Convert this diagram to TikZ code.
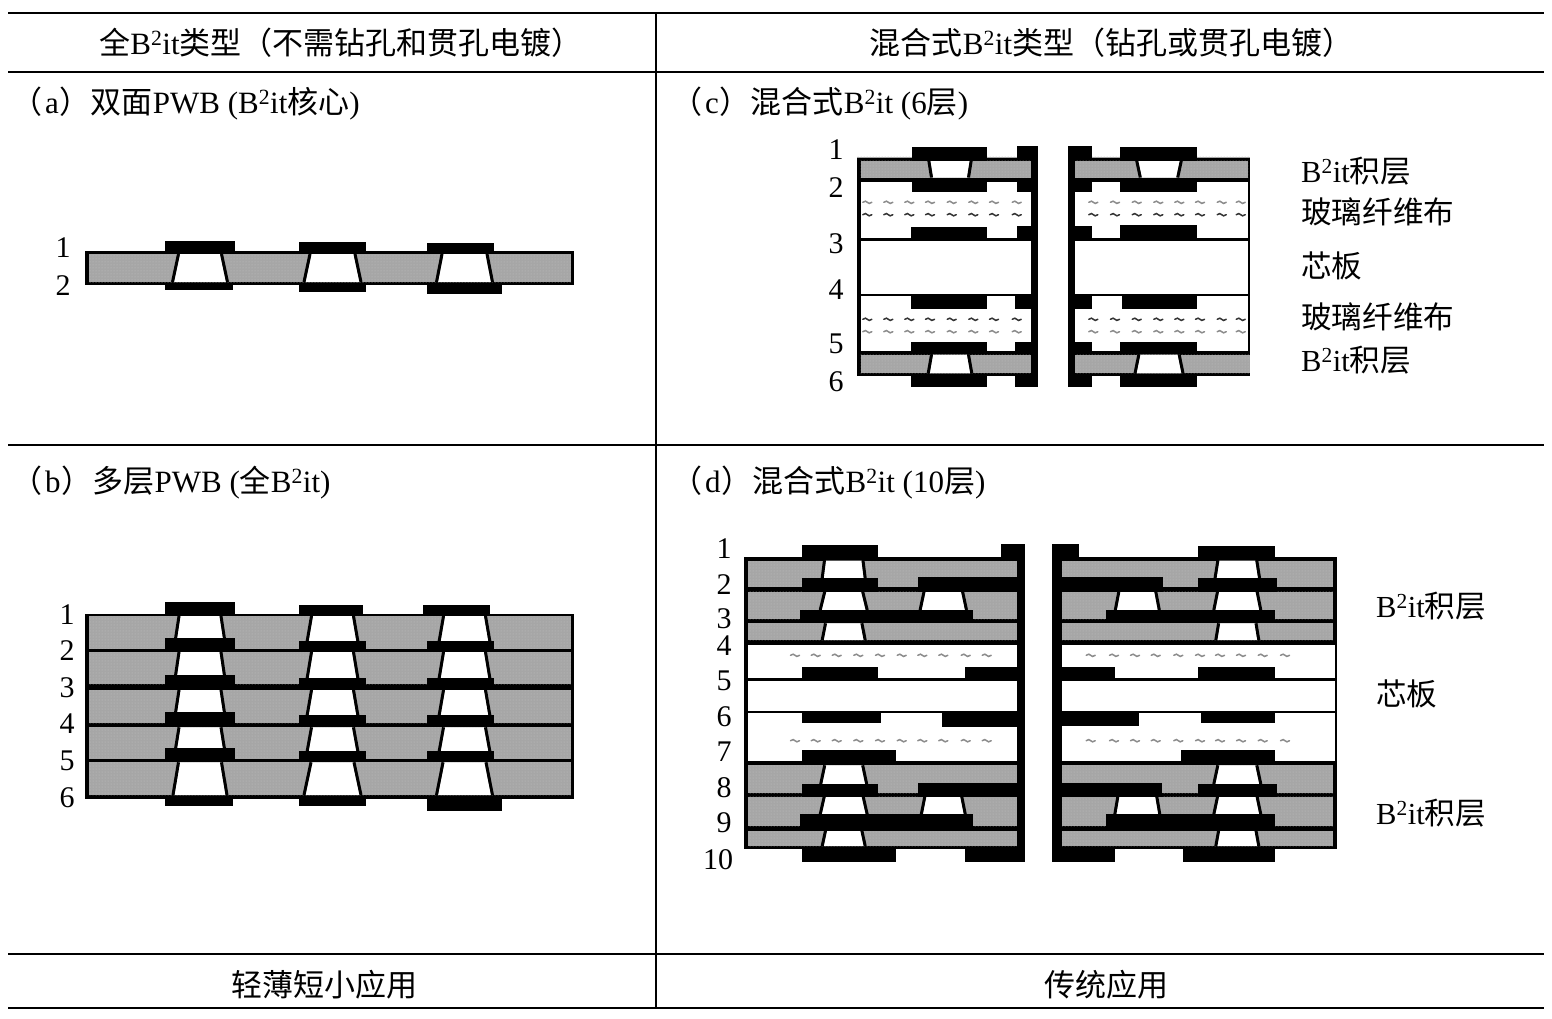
\documentclass[tikz,border=0pt]{standalone}
\usepackage{fontspec}
\usetikzlibrary{patterns}
\setmainfont{Liberation Serif}
\newfontfamily\cjk{Noto Sans CJK SC}
\newcommand\C[1]{{\cjk #1}}
\newcommand\Bit{B\textsuperscript{2}it}
\newcommand\AB[1]{\C{（}\kern3pt #1\kern1pt\C{）}}
\definecolor{stip}{HTML}{A6A6A6}
\definecolor{stipdot}{HTML}{C2C2C2}
\tikzset{
  rule/.style={line width=1.8pt,black},
  txt/.style={inner sep=0pt,font=\fontsize{31}{31}\selectfont},
  lbl/.style={txt,anchor=west},
  side/.style={inner sep=0pt,anchor=west,font=\fontsize{30.6}{31}\selectfont},
  num/.style={inner sep=0pt,anchor=center,font=\fontsize{30}{30}\selectfont},
  wall/.style={line width=3pt,black},
  glass/.style={line width=1.5pt,black!45,line cap=round},
  glassk/.style={line width=1.5pt,black!80,line cap=round},
}
% black block, gray layer, white layer: x1 x2 y1 y2
\newcommand\PD[4]{\fill[black] (#1,#3) rectangle (#2,#4);}
\newcommand\RG[4]{\fill[stip] (#1,#3) rectangle (#2,#4);\fill[pattern=dots,pattern color=stipdot] (#1,#3) rectangle (#2,#4);}
\newcommand\RW[4]{\fill[white] (#1,#3) rectangle (#2,#4);}
% via: centre, top half width, bottom half width, y top, y bottom
\newcommand\VI[5]{%
  \fill[white] ({#1-#2},#4) -- ({#1+#2},#4) -- ({#1+#3},#5) -- ({#1-#3},#5) -- cycle;
  \draw[wall] ({#1-#2-1.5},#4) -- ({#1-#3-1.5},#5);
  \draw[wall] ({#1+#2+1.5},#4) -- ({#1+#3+1.5},#5);}
% glass cloth marks: pale, dark
\newcommand\GL[2]{\draw[glass] ({#1-4.5},#2) .. controls ({#1-2.5},{#2-1.5}) and ({#1-1},{#2-1.5}) .. (#1,#2) .. controls ({#1+1},{#2+1.5}) and ({#1+2.5},{#2+1.5}) .. ({#1+4.5},#2);}
\newcommand\GK[2]{\draw[glassk] ({#1-4.5},#2) .. controls ({#1-2.5},{#2-1.5}) and ({#1-1},{#2-1.5}) .. (#1,#2) .. controls ({#1+1},{#2+1.5}) and ({#1+2.5},{#2+1.5}) .. ({#1+4.5},#2);}
\begin{document}
\begin{tikzpicture}[x=1pt,y=-1pt]
\useasboundingbox (0,0) rectangle (1552,1018);
\fill[white] (0,0) rectangle (1552,1018);
% table
\draw[rule] (8,13) -- (1544,13);
\draw[rule] (8,72) -- (1544,72);
\draw[rule] (8,445) -- (1544,445);
\draw[rule] (8,954) -- (1544,954);
\draw[rule] (8,1008) -- (1544,1008);
\draw[rule] (656,13) -- (656,1008);
% headers
\node[txt] (h1) at (341,42.5) {\C{全}\Bit\C{类型（不需钻孔和贯孔电镀）}};
\node[txt] (h2) at (1111.5,42.5) {\C{混合式}\Bit\C{类型（钻孔或贯孔电镀）}};
\node[txt] (f1) at (324,984.5) {\C{轻薄短小应用}};
\node[txt] (f2) at (1106,984.5) {\C{传统应用}};
\node[lbl] (ta) at (11,103.5) {\AB{a}\C{双面}PWB (\Bit\C{核心})};
\node[lbl] (tb) at (11,482.5) {\AB{b}\C{多层}PWB (\C{全}\Bit)};
\node[lbl] (tc) at (671,103.5) {\AB{c}\C{混合式}\Bit\ (6\C{层})};
\node[lbl] (td) at (671,482.5) {\AB{d}\C{混合式}\Bit\ (10\C{层})};

%%% panel (a)
\PD{85}{574}{251}{285}
\RG{88.5}{571}{254}{282}
\VI{200}{20}{26}{254}{282}
\VI{332.5}{21}{27}{254}{282}
\VI{464.5}{21}{26.5}{254}{282}
\PD{165}{235}{241}{253}
\PD{299}{366}{242}{253}
\PD{427}{494}{243}{253}
\PD{165}{233}{283}{290}
\PD{299}{366}{283}{292}
\PD{427}{502}{283}{294}
\node[num] (a1) at (63,248) {1};
\node[num] (a2) at (63,286) {2};

%%% panel (b)
\PD{85}{574}{613.5}{798.5}
\RG{88.5}{571}{616}{648.7}
\RG{88.5}{571}{652}{684.3}
\RG{88.5}{571}{690}{723.3}
\RG{88.5}{571}{727.3}{758.7}
\RG{88.5}{571}{762.3}{795}
\foreach \c/\hb/\hl in {200/23.5/25.5,332.5/24/27,464.5/24/26.5}{
  \VI{\c}{19.5}{\hb}{616}{642}
  \VI{\c}{19.5}{\hb}{652}{679}
  \VI{\c}{19.5}{\hb}{690}{716}
  \VI{\c}{19.5}{\hb}{727.3}{752}
  \VI{\c}{20}{\hl}{762.3}{795}
}
\PD{165}{235}{602}{614}
\PD{299}{363}{605}{614}
\PD{423}{490}{605}{614}
\foreach \a/\b/\yp in {165/235/637.5,165/235/675,165/235/712,165/235/747.5}{\PD{\a}{\b}{\yp}{\yp+12}}
\PD{299}{366}{641}{650}\PD{299}{366}{678}{686}\PD{299}{366}{715}{724}\PD{299}{366}{751}{759}
\PD{427}{494}{641}{650}\PD{427}{494}{678}{686}\PD{427}{494}{715}{724}\PD{427}{494}{751}{759}
\PD{165}{233}{797}{806}
\PD{299}{366}{797}{806}
\PD{427}{502}{797}{811}
\node[num] (b1) at (67,615) {1};
\node[num] (b2) at (67,651) {2};
\node[num] (b3) at (67,688) {3};
\node[num] (b4) at (67,724) {4};
\node[num] (b5) at (67,761) {5};
\node[num] (b6) at (67,798) {6};

%%% panel (c), left half
\PD{857}{1031}{158.3}{376}
\RG{857}{1031}{156.5}{158.3}
\RG{860.7}{1031}{160.7}{177.5}
\RW{860.7}{1031}{181.7}{237.5}
\RW{860.7}{1031}{240.7}{294}
\RW{860.7}{1031}{296}{350.7}
\RG{860.7}{1031}{354.7}{373.3}
\PD{1030.7}{1038.3}{146}{387.3}
\VI{950}{19.7}{17}{160.7}{177.5}
\VI{950}{17}{20.3}{354.7}{373.3}
\PD{911.7}{986.7}{147.3}{160.7}
\PD{1016.7}{1038.3}{146}{158}
\PD{911.7}{986.7}{177.5}{191.7}
\PD{1016.7}{1031}{181.7}{191.7}
\PD{910.7}{986.7}{226.7}{237.5}
\PD{1016.7}{1031}{226}{237.5}
\PD{910.7}{986.7}{296}{309}
\PD{1015}{1031}{296}{308.5}
\PD{910.7}{986.7}{342.3}{350.7}
\PD{1015}{1031}{342.3}{350.7}
\PD{910.7}{986.7}{376}{387.3}
\PD{1015}{1038.3}{376}{387.3}
\foreach \x in {867.3,888.3,909.3,930,951.7,973.3,994,1016.7}{
  \GL{\x}{202.3}\GK{\x}{214.7}\GK{\x}{319.3}\GL{\x}{331.7}}
%%% panel (c), right half
\PD{1075}{1250}{158.3}{376}
\RG{1075}{1250}{156.5}{158.3}
\RG{1075}{1248}{160.7}{177.5}
\RW{1075}{1248}{181.7}{237.5}
\RW{1075}{1248}{240.7}{294}
\RW{1075}{1248}{296}{350.7}
\RG{1075}{1250}{354.7}{373.3}
\PD{1068.3}{1075}{146}{387.3}
\VI{1159}{20.8}{17.2}{160.7}{177.5}
\VI{1159}{18.7}{22.5}{354.7}{373.3}
\PD{1120}{1196.7}{147.3}{160.7}
\PD{1068.3}{1091.7}{146}{158}
\PD{1120}{1196.7}{177.5}{191.7}
\PD{1075}{1091.7}{181.7}{191.7}
\PD{1120}{1196.7}{225}{237.5}
\PD{1075}{1091.7}{226}{237.5}
\PD{1121.7}{1196.7}{296}{309}
\PD{1075}{1091.7}{296}{308.5}
\PD{1120}{1196.7}{342.3}{350.7}
\PD{1075}{1091.7}{342.3}{350.7}
\PD{1120}{1196.7}{376}{387.3}
\PD{1068.3}{1091.7}{376}{387.3}
\foreach \x in {1093.3,1115,1136.7,1158.3,1179.3,1200,1221.7,1240.7}{
  \GL{\x}{202.3}\GK{\x}{214.7}\GK{\x}{319.3}\GL{\x}{331.7}}
\node[num] (c1) at (836,150) {1};
\node[num] (c2) at (836,188) {2};
\node[num] (c3) at (836,244) {3};
\node[num] (c4) at (836,290) {4};
\node[num] (c5) at (836,344) {5};
\node[num] (c6) at (836,382) {6};
\node[side] (cl1) at (1301,171.5) {\Bit\C{积层}};
\node[side] (cl2) at (1301,211.5) {\C{玻璃纤维布}};
\node[side] (cl3) at (1301,265.5) {\C{芯板}};
\node[side] (cl4) at (1301,316.5) {\C{玻璃纤维布}};
\node[side] (cl5) at (1301,360.5) {\Bit\C{积层}};

%%% panel (d), left half
\PD{744.3}{1017}{556.7}{849.3}
\RG{748.3}{1017}{560.7}{587.3}
\RG{748.3}{1017}{591.7}{619.3}
\RG{748.3}{1017}{623.3}{640}
\RW{748.3}{1017}{644.7}{678.3}
\RW{748.3}{1017}{680.7}{710.7}
\RW{748.3}{1017}{713.3}{761.3}
\RG{748.3}{1017}{765.3}{793.3}
\RG{748.3}{1017}{796.7}{826}
\RG{748.3}{1017}{830.7}{846}
\PD{1016.7}{1025}{544}{861.7}
\VI{843.7}{17.8}{21}{560.7}{586}
\VI{843.7}{17.5}{22}{591.7}{610}
\VI{943.3}{17.8}{21.7}{591.7}{610}
\VI{843.7}{16.7}{20}{623.3}{640}
\VI{843.7}{17.5}{21.5}{765.3}{784}
\VI{843.7}{18}{22}{796.7}{814.3}
\VI{943.3}{17}{20.5}{796.7}{814.3}
\VI{843.7}{16.7}{20}{830.7}{846}
\PD{801.7}{878.3}{545}{557}
\PD{1001}{1025}{544}{557}
\PD{801.7}{878.3}{577.7}{591.7}
\PD{918.3}{1017}{576.7}{591.7}
\PD{800}{973.3}{610}{623.3}
\PD{801.7}{878.3}{666.7}{678.3}
\PD{965}{1017}{666.7}{678.3}
\PD{801.7}{880.7}{713.3}{723.3}
\PD{941.7}{1017}{713.3}{726.7}
\PD{801.7}{896}{750}{761.3}
\PD{801.7}{878.3}{784}{796.7}
\PD{918.3}{1017}{783.3}{796.7}
\PD{800}{973.3}{814.3}{830.7}
\PD{801.7}{896}{849.3}{861.7}
\PD{965}{1025}{849.3}{861.7}
\foreach \x in {795,815.7,836.7,858.3,880,901.7,922.3,943.3,965.7,986.7}{\GL{\x}{655.3}\GL{\x}{740.7}}
%%% panel (d), right half
\PD{1061}{1336.7}{556.7}{849.3}
\RG{1061.7}{1333.3}{560.7}{587.3}
\RG{1061.7}{1333.3}{591.7}{619.3}
\RG{1061.7}{1333.3}{623.3}{640}
\RW{1061.7}{1335}{644.7}{678.3}
\RW{1061.7}{1335}{680.7}{710.7}
\RW{1061.7}{1335}{713.3}{761.3}
\RG{1061.7}{1333.3}{765.3}{793.3}
\RG{1061.7}{1333.3}{796.7}{826}
\RG{1061.7}{1333.3}{830.7}{846}
\PD{1052.3}{1061.7}{544}{861.7}
\VI{1237.3}{18}{22}{560.7}{586}
\VI{1237.3}{18.3}{22}{591.7}{610}
\VI{1137.3}{17}{20.5}{591.7}{610}
\VI{1237.3}{17.2}{20}{623.3}{640}
\VI{1237.3}{18}{22}{765.3}{784}
\VI{1237.3}{18.3}{22}{796.7}{814.3}
\VI{1137.3}{18}{21}{796.7}{814.3}
\VI{1237.3}{17.2}{20}{830.7}{846}
\PD{1052.3}{1079.3}{544}{557}
\PD{1198.3}{1275}{546}{557}
\PD{1061}{1162.7}{576.7}{591.7}
\PD{1198.3}{1276.7}{577.7}{591.7}
\PD{1106}{1275}{610}{623.3}
\PD{1061}{1115}{666.7}{678.3}
\PD{1198.3}{1275}{666.7}{678.3}
\PD{1061}{1139.3}{713.3}{725.7}
\PD{1200.7}{1275}{713.3}{723.3}
\PD{1181}{1275}{750}{761.3}
\PD{1061}{1162}{783.3}{796.7}
\PD{1198.3}{1276.7}{784}{796.7}
\PD{1106}{1275}{814.3}{830.7}
\PD{1052.3}{1115}{849.3}{861.7}
\PD{1183.3}{1275}{849.3}{861.7}
\foreach \x in {1090.7,1114,1135,1155.7,1178.3,1200,1220,1241,1262.7,1285}{\GL{\x}{655.3}\GL{\x}{740.7}}
\node[num] (d1) at (724,549) {1};
\node[num] (d2) at (724,585) {2};
\node[num] (d3) at (724,619) {3};
\node[num] (d4) at (724,646) {4};
\node[num] (d5) at (724,681) {5};
\node[num] (d6) at (724,717) {6};
\node[num] (d7) at (724,752) {7};
\node[num] (d8) at (724,788) {8};
\node[num] (d9) at (724,823) {9};
\node[num] (d10) at (718,860) {10};
\node[side] (dl1) at (1376,606.5) {\Bit\C{积层}};
\node[side] (dl2) at (1376,693.5) {\C{芯板}};
\node[side] (dl3) at (1376,813.5) {\Bit\C{积层}};
\end{tikzpicture}
\end{document}
